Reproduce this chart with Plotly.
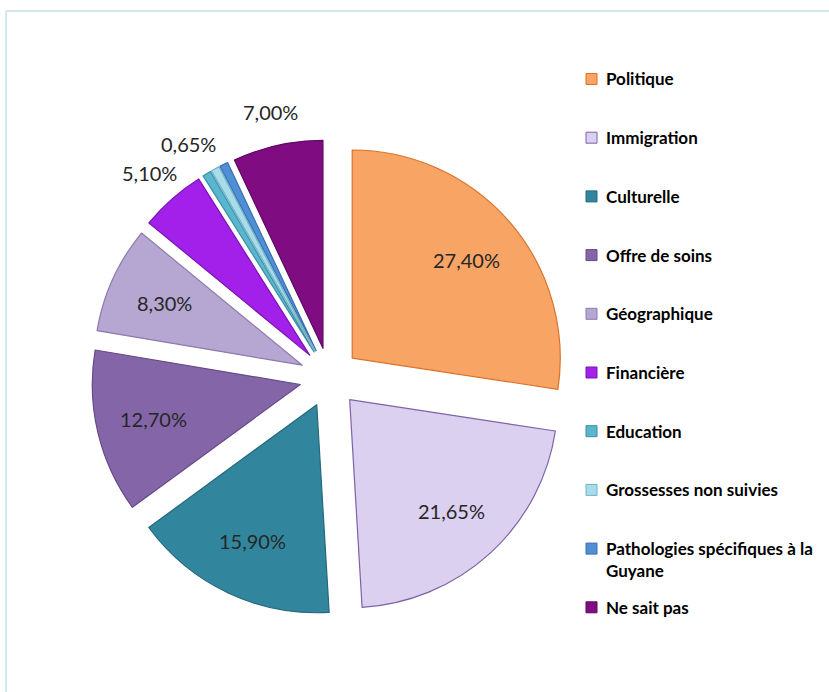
import math
import plotly.graph_objects as go

# Reasons given (share of answers, %), clockwise from 12 o'clock
categories = [
    "Politique",
    "Immigration",
    "Culturelle",
    "Offre de soins",
    "Géographique",
    "Financière",
    "Education",
    "Grossesses non suivies",
    "Pathologies spécifiques à la<br>Guyane",
    "Ne sait pas",
]
shares = [27.40, 21.65, 15.90, 12.70, 8.30, 5.10, 0.65, 0.65, 0.65, 7.00]

# which slices carry a percentage label, and whether it sits inside the slice
label_shown = [True, True, True, True, True, True, True, False, False, True]
label_inside = [True] * 5 + [False] * 5

fill_colors = [
    "#F8A465", "#DCD0F0", "#31869E", "#8466A8", "#B6A6D2",
    "#A31FEA", "#58B6CF", "#A8DCEA", "#4F8FD6", "#800C82",
]
edge_colors = [
    "#D9732A", "#7E62A6", "#25687C", "#654A88", "#8C7AAE",
    "#7A14B3", "#3E8EA5", "#6FB2C6", "#3A6FAE", "#5E0760",
]

W, H = 829, 692
PULL = 0.144
DOM_X = [0.1103, 0.6846]
DOM_Y = [0.1104, 0.7983]

fig = go.Figure(
    go.Pie(
        labels=[c.replace("<br>", " ") for c in categories],
        values=shares,
        sort=False,
        direction="clockwise",
        rotation=0,
        pull=PULL,
        marker=dict(colors=fill_colors, line=dict(color=edge_colors, width=1.2)),
        textinfo="none",
        domain=dict(x=DOM_X, y=DOM_Y),
        hoverinfo="label+percent",
        showlegend=False,
    )
)

# percentage labels along each slice's bisector
cx = (DOM_X[0] + DOM_X[1]) / 2
cy = (DOM_Y[0] + DOM_Y[1]) / 2
radius_px = min((DOM_X[1] - DOM_X[0]) * W, (DOM_Y[1] - DOM_Y[0]) * H) / (2 * (1 + PULL))
total = sum(shares)
start = 0.0
for v, shown, inside in zip(shares, label_shown, label_inside):
    mid = 2 * math.pi * (start + v / 2) / total
    start += v
    if not shown:
        continue
    dist = radius_px * (0.87 if inside else 1.31)
    fig.add_annotation(
        xref="paper", yref="paper",
        x=cx + dist * math.sin(mid) / W,
        y=cy + dist * math.cos(mid) / H,
        xanchor="center", yanchor="middle", showarrow=False,
        text=f"{v:.2f}".replace(".", ",") + "%",
        font=dict(family="Lato", size=20, color="#262626"),
    )

# key on the right: one row per category, evenly spaced
key_top, key_step = 79.0, 58.7      # pixel centre of first row, row pitch
box_x0, box_size, text_x = 586, 11, 604
line_px = 17 * 1.3
for i, (name, fc, ec) in enumerate(zip(categories, fill_colors, edge_colors)):
    yc = key_top + i * key_step
    fig.add_shape(type="rect", xref="paper", yref="paper",
                  x0=box_x0 / W, x1=(box_x0 + box_size) / W,
                  y0=1 - (yc + box_size / 2) / H, y1=1 - (yc - box_size / 2) / H,
                  fillcolor=fc, line=dict(color=ec, width=1))
    n_lines = name.count("<br>") + 1
    fig.add_annotation(xref="paper", yref="paper",
                       x=text_x / W, y=1 - (yc + (n_lines - 1) * line_px / 2) / H,
                       xanchor="left", yanchor="middle", align="left",
                       showarrow=False, text=name,
                       font=dict(family="Lato", size=17, color="#000000", weight=700))

# thin frame along the top and left edges
frame = "#D3E7EF"
fig.add_shape(type="line", xref="paper", yref="paper",
              x0=6 / W, y0=1 - 11 / H, x1=1, y1=1 - 11 / H,
              line=dict(color=frame, width=2))
fig.add_shape(type="line", xref="paper", yref="paper",
              x0=6 / W, y0=1 - 11 / H, x1=6 / W, y1=0,
              line=dict(color=frame, width=2))

fig.update_layout(
    width=W,
    height=H,
    margin=dict(l=0, r=0, t=0, b=0),
    paper_bgcolor="white",
    plot_bgcolor="white",
    showlegend=False,
)

fig.write_html("out.html")
